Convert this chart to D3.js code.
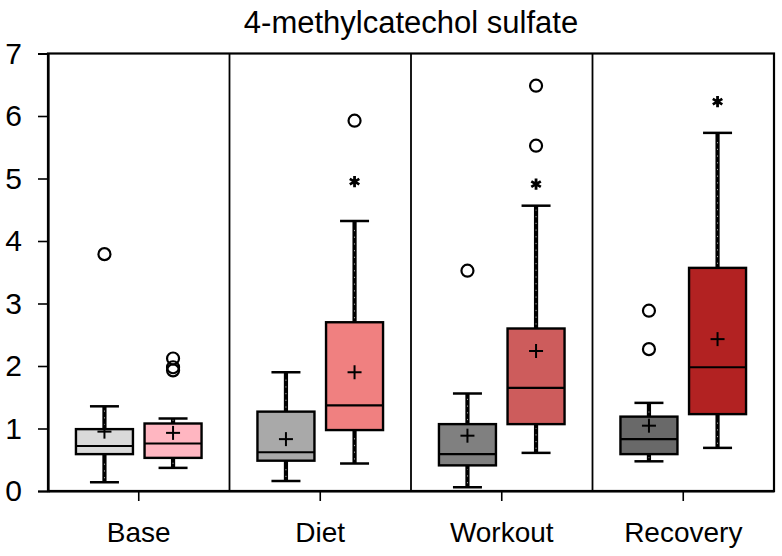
<!DOCTYPE html>
<html>
<head>
<meta charset="utf-8">
<script src="https://cdn.jsdelivr.net/npm/d3@7"></script>
<style>
  html, body { margin: 0; padding: 0; background: #fff; }
  svg { display: block; font-family: "Liberation Sans", Arial, sans-serif; }
</style>
</head>
<body>
<svg id="chart" width="782" height="556"></svg>
<script>
// ---- data ----
const title = "4-methylcatechol sulfate";
const categories = ["Base", "Diet", "Workout", "Recovery"];
const groups = ["control", "treated"];
const yTicks = [0, 1, 2, 3, 4, 5, 6, 7];

// box order: category-major, control then treated
const boxCategory = ["Base", "Base", "Diet", "Diet", "Workout", "Workout", "Recovery", "Recovery"];
const boxGroup    = ["control", "treated", "control", "treated", "control", "treated", "control", "treated"];
const whiskerLo = [0.14, 0.37, 0.16, 0.44, 0.06, 0.61, 0.475, 0.69];
const q1        = [0.59, 0.53, 0.485, 0.975, 0.41, 1.07, 0.59, 1.23];
const median    = [0.72, 0.76, 0.62, 1.37, 0.59, 1.65, 0.83, 1.98];
const q3        = [0.99, 1.08, 1.27, 2.70, 1.07, 2.60, 1.19, 3.57];
const whiskerHi = [1.355, 1.16, 1.90, 4.32, 1.56, 4.565, 1.41, 5.73];
const means     = [0.95, 0.93, 0.83, 1.90, 0.885, 2.24, 1.045, 2.43];
const outliers  = [[3.79], [2.12, 1.98, 1.93], [], [5.925], [3.525], [5.525, 6.485], [2.27, 2.885], []];
const extremes  = [[], [], [], [4.95], [], [4.91], [], [6.23]];
const boxColors = ["#d9d9d9", "#ffb6c1", "#a9a9a9", "#f08080", "#808080", "#cd5c5c", "#696969", "#b22222"];

// ---- layout ----
const svg = d3.select("#chart");
const mLeft = 48, mRight = 774, mTop = 53.5, mBottom = 491;
const boxW = 57, capHalf = 14.5;

const x = d3.scaleBand().domain(categories).range([mLeft, mRight]).padding(0);
const sub = d3.scalePoint().domain(groups).range([-34.3, 34.3]);
const y = d3.scaleLinear().domain([0, 7]).range([mBottom, mTop]);
const cx = i => x(boxCategory[i]) + x.bandwidth() / 2 + sub(boxGroup[i]);

// title
svg.append("text")
  .attr("x", (mLeft + mRight) / 2).attr("y", 33)
  .attr("text-anchor", "middle")
  .attr("font-size", 31)
  .attr("fill", "#000")
  .text(title);

// panel separators
svg.append("g").selectAll("line")
  .data(categories.slice(1))
  .join("line")
  .attr("x1", d => x(d)).attr("x2", d => x(d))
  .attr("y1", mTop).attr("y2", mBottom)
  .attr("stroke", "#000").attr("stroke-width", 1.8);

// frame
svg.append("rect")
  .attr("x", mLeft).attr("y", mTop)
  .attr("width", mRight - mLeft).attr("height", mBottom - mTop)
  .attr("fill", "none").attr("stroke", "#000").attr("stroke-width", 2.2);

// axes
const yAxis = svg.append("g")
  .attr("transform", `translate(${mLeft},0)`)
  .call(d3.axisLeft(y).tickValues(yTicks).tickFormat(d3.format("d")).tickSize(10).tickPadding(16));
yAxis.select(".domain").attr("stroke-width", 2.2);
yAxis.selectAll(".tick line").attr("stroke-width", 1.6);
yAxis.selectAll(".tick text").attr("font-size", 30).attr("fill", "#000")
  .attr("font-family", "\"Liberation Sans\", Arial, sans-serif");

const xAxis = svg.append("g")
  .attr("transform", `translate(0,${mBottom})`)
  .call(d3.axisBottom(x).tickSize(10).tickPadding(21).tickSizeOuter(0));
xAxis.select(".domain").attr("stroke-width", 2.2);
xAxis.selectAll(".tick line").attr("stroke-width", 1.6);
xAxis.selectAll(".tick text").attr("font-size", 28).attr("fill", "#000")
  .attr("font-family", "\"Liberation Sans\", Arial, sans-serif");

// boxes
const idx = d3.range(boxCategory.length);
const g = svg.append("g");

// whiskers (thick black with sparse small white dots in the core)
const whiskerSegs = idx.flatMap(i => [
  { i, a: whiskerLo[i], b: q1[i] },
  { i, a: q3[i], b: whiskerHi[i] }
]);
g.selectAll("line.wk").data(whiskerSegs).join("line").attr("class", "wk")
  .attr("x1", d => cx(d.i)).attr("x2", d => cx(d.i))
  .attr("y1", d => y(d.a)).attr("y2", d => y(d.b))
  .attr("stroke", "#000").attr("stroke-width", 4.2);
g.selectAll("line.wkd").data(whiskerSegs).join("line").attr("class", "wkd")
  .attr("x1", d => cx(d.i)).attr("x2", d => cx(d.i))
  .attr("y1", d => y(d.a) - 4).attr("y2", d => y(d.b) + 4)
  .attr("stroke", "#fff").attr("stroke-width", 0.8).attr("opacity", 0.85)
  .attr("stroke-dasharray", "1.2,5.5");

// caps
const caps = idx.flatMap(i => [{ i, v: whiskerLo[i] }, { i, v: whiskerHi[i] }]);
g.selectAll("line.cap").data(caps).join("line").attr("class", "cap")
  .attr("x1", d => cx(d.i) - capHalf).attr("x2", d => cx(d.i) + capHalf)
  .attr("y1", d => y(d.v)).attr("y2", d => y(d.v))
  .attr("stroke", "#000").attr("stroke-width", 2.5);

// box bodies
g.selectAll("rect.box").data(idx).join("rect").attr("class", "box")
  .attr("x", i => cx(i) - boxW / 2).attr("width", boxW)
  .attr("y", i => y(q3[i])).attr("height", i => y(q1[i]) - y(q3[i]))
  .attr("fill", i => boxColors[i]).attr("stroke", "#000").attr("stroke-width", 2.4);

// medians
g.selectAll("line.med").data(idx).join("line").attr("class", "med")
  .attr("x1", i => cx(i) - boxW / 2).attr("x2", i => cx(i) + boxW / 2)
  .attr("y1", i => y(median[i])).attr("y2", i => y(median[i]))
  .attr("stroke", "#000").attr("stroke-width", 2.2);

// means (+)
g.selectAll("g.mean").data(idx).join("g").attr("class", "mean")
  .attr("transform", i => `translate(${cx(i)},${y(means[i])})`)
  .each(function () {
    const s = d3.select(this);
    s.append("line").attr("x1", -7).attr("x2", 7).attr("y1", 0).attr("y2", 0)
      .attr("stroke", "#000").attr("stroke-width", 2);
    s.append("line").attr("x1", 0).attr("x2", 0).attr("y1", -7).attr("y2", 7)
      .attr("stroke", "#000").attr("stroke-width", 2);
  });

// outliers (circles)
const outPts = idx.flatMap(i => outliers[i].map(v => ({ i, v })));
g.selectAll("circle.out").data(outPts).join("circle").attr("class", "out")
  .attr("cx", d => cx(d.i)).attr("cy", d => y(d.v)).attr("r", 6)
  .attr("fill", "none").attr("stroke", "#000").attr("stroke-width", 2.2);

// extremes (asterisks)
const extPts = idx.flatMap(i => extremes[i].map(v => ({ i, v })));
g.selectAll("path.ext").data(extPts).join("path").attr("class", "ext")
  .attr("transform", d => `translate(${cx(d.i)},${y(d.v)})`)
  .attr("d", d3.symbol().type(d3.symbolAsterisk).size(85))
  .attr("fill", "none").attr("stroke", "#000").attr("stroke-width", 2.8);
</script>
</body>
</html>
